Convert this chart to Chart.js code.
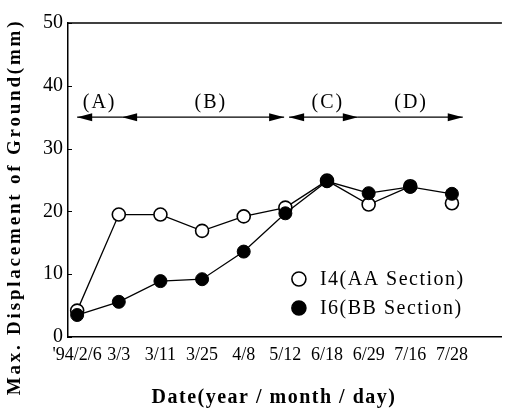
<!DOCTYPE html>
<html><head><meta charset="utf-8">
<script src="https://cdn.jsdelivr.net/npm/chart.js@4/dist/chart.umd.min.js"></script>
<style>html,body{margin:0;padding:0;background:#fff}canvas{display:block}</style>
</head><body>
<canvas id="c" width="510" height="410"></canvas>
<script>
// ---- data ----
const dates = ["'94/2/6","3/3","3/11","3/25","4/8","5/12","6/18","6/29","7/16","7/28"];
const seriesNames = ["I4(AA Section)","I6(BB Section)"];
const aaValues = [4.2,19.5,19.5,16.9,19.2,20.6,24.9,21.1,24.0,21.3];
const bbValues = [3.5,5.6,8.9,9.2,13.6,19.7,24.8,22.9,23.9,22.8];
const yTicks = [0,10,20,30,40,50];
const periodNames = ['(A)','(B)','(C)','(D)'];
const periodLabelAt = [0.54,3.21,6.02,8.02];
const periodStart = [0,1.08,5.09,6.74];
const periodEnd = [1.08,4.97,6.74,9.26];
const periodStartHead = [true,true,true,false];
const periodEndHead = [false,true,true,true];
const periodLevel = 35;
const periodLabelLevel = 37.3;
const xTitle = 'Date(year / month / day)';
const yTitle = 'Max. Displacement of Ground(mm)';

const SERIF = '"Liberation Serif", "Times New Roman", serif';

const deco = {
  id: 'deco',
  afterDraw(chart) {
    const {ctx, chartArea: a, scales: {x, y}} = chart;
    ctx.save();
    ctx.strokeStyle = '#000'; ctx.fillStyle = '#000';
    // top frame line
    ctx.lineWidth = 1.5;
    ctx.beginPath(); ctx.moveTo(a.left, a.top); ctx.lineTo(a.right, a.top); ctx.stroke();
    // inward tick marks
    ctx.lineWidth = 1;
    y.ticks.forEach(t => {
      const py = Math.round(y.getPixelForValue(t.value)) + 0.5;
      ctx.beginPath(); ctx.moveTo(a.left, py); ctx.lineTo(a.left + 4, py); ctx.stroke();
    });
    // period arrows
    const py = y.getPixelForValue(periodLevel);
    ctx.lineWidth = 1.3;
    const head = (xt, dir) => {
      ctx.beginPath(); ctx.moveTo(xt, py);
      ctx.lineTo(xt - dir * 15, py - 4); ctx.lineTo(xt - dir * 15, py + 4);
      ctx.closePath(); ctx.fill();
    };
    periodNames.forEach((n, i) => {
      const x0 = x.getPixelForValue(periodStart[i]), x1 = x.getPixelForValue(periodEnd[i]);
      ctx.beginPath(); ctx.moveTo(x0, py); ctx.lineTo(x1, py); ctx.stroke();
      if (periodStartHead[i]) head(x0, -1);
      if (periodEndHead[i]) head(x1, 1);
    });
    ctx.font = `20px ${SERIF}`;
    ctx.letterSpacing = '2px';
    ctx.textAlign = 'center'; ctx.textBaseline = 'middle';
    const ly = y.getPixelForValue(periodLabelLevel);
    periodNames.forEach((n, i) => ctx.fillText(n, x.getPixelForValue(periodLabelAt[i]), ly));
    // legend
    const lx = a.right - 203;
    const lys = [a.bottom - 58, a.bottom - 29];
    ctx.textAlign = 'left';
    ctx.letterSpacing = '1.5px';
    chart.data.datasets.forEach((ds, i) => {
      ctx.beginPath(); ctx.arc(lx, lys[i], 7, 0, Math.PI * 2);
      ctx.fillStyle = ds.pointBackgroundColor; ctx.fill();
      ctx.lineWidth = 1.6; ctx.strokeStyle = '#000'; ctx.stroke();
      ctx.fillStyle = '#000';
      ctx.fillText(ds.label, lx + 21, lys[i] + 1);
    });
    // axis titles
    ctx.font = `bold 20px ${SERIF}`;
    ctx.letterSpacing = '1.5px';
    ctx.textAlign = 'center';
    ctx.fillText(xTitle, 274, 398);
    ctx.translate(15, 207); ctx.rotate(-Math.PI / 2);
    ctx.font = `bold 19px ${SERIF}`;
    ctx.letterSpacing = '2.8px';
    ctx.fillText(yTitle, 0, 0);
    ctx.restore();
  }
};

const pts = arr => arr.map((v, i) => ({x: i, y: v}));

new Chart(document.getElementById('c'), {
  type: 'line',
  data: {datasets: [
    {label: seriesNames[0], data: pts(aaValues), borderColor: '#000', borderWidth: 1.3,
     pointRadius: 6.5, pointBackgroundColor: '#fff', pointBorderColor: '#000', pointBorderWidth: 1.6,
     order: 2, segment: {borderColor: c => c.p1DataIndex === aaValues.length - 1 ? 'rgba(0,0,0,0)' : '#000'}},
    {label: seriesNames[1], data: pts(bbValues), borderColor: '#000', borderWidth: 1.3,
     pointRadius: 6.5, pointBackgroundColor: '#000', pointBorderColor: '#000', pointBorderWidth: 1,
     order: 1}
  ]},
  options: {
    responsive: false, animation: false, devicePixelRatio: 1,
    layout: {padding: {top: 23, right: 0, left: 0, bottom: 0}},
    plugins: {legend: {display: false}, tooltip: {enabled: false}},
    scales: {
      x: {type: 'linear', min: -0.22, max: 10.2,
          afterBuildTicks: s => { s.ticks = dates.map((_, i) => ({value: i})); },
          afterFit: s => { s.height = 73; },
          grid: {display: false, drawTicks: false},
          border: {color: '#000', width: 1.5},
          ticks: {callback: v => dates[v] ?? '', color: '#000', font: {family: SERIF, size: 18},
                  padding: 7, maxRotation: 0, autoSkip: false}},
      y: {min: 0, max: 50,
          afterBuildTicks: s => { s.ticks = yTicks.map(v => ({value: v})); },
          afterFit: s => { s.width = 68; },
          grid: {display: false, drawTicks: false},
          border: {color: '#000', width: 1.5},
          ticks: {color: '#000', font: {family: SERIF, size: 20}, padding: 5}}
    }
  },
  plugins: [deco]
});
</script>
</body></html>
